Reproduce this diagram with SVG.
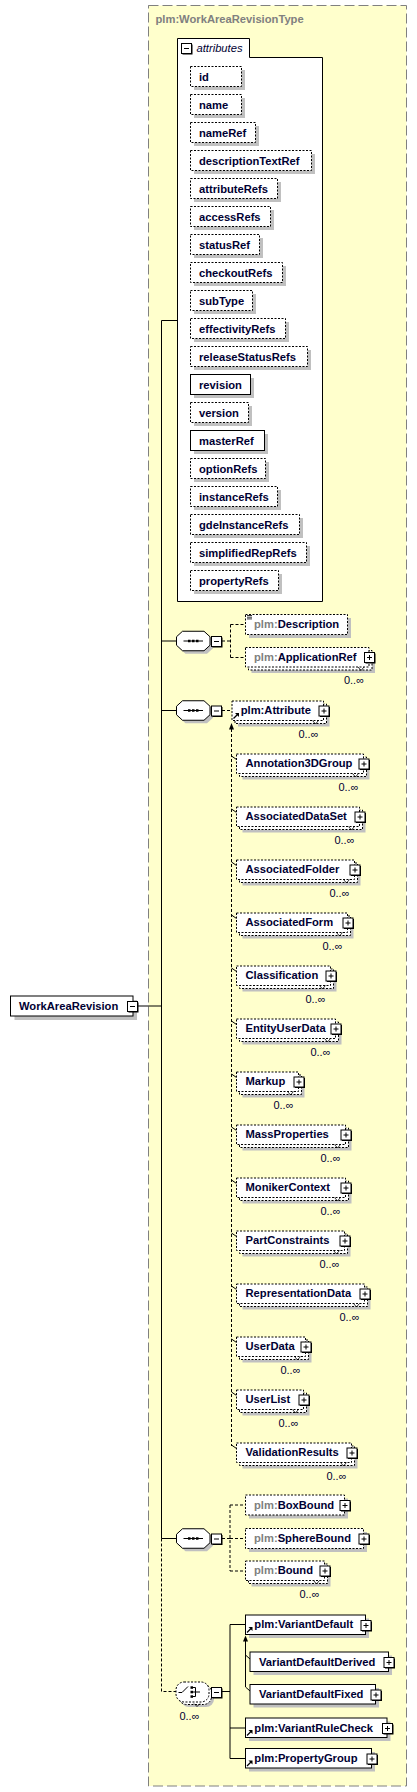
<svg xmlns="http://www.w3.org/2000/svg" width="417" height="1792" viewBox="0 0 417 1792">
<style>
.t{font-family:"Liberation Sans",Arial,sans-serif;font-size:11.2px;font-weight:bold;fill:#000033}
.g{fill:#808080}
.m{font-family:"Liberation Sans",Arial,sans-serif;font-size:11px;fill:#000033;text-anchor:end}
.it{font-family:"Liberation Sans",Arial,sans-serif;font-size:11.2px;font-style:italic;fill:#000033}
.sh{fill:#c0c0c0}
.s{fill:#fff;stroke:#000}
.d{fill:#fff;stroke:#000;stroke-dasharray:2,1.5}
.c{fill:none;stroke:#000}
.cd{fill:none;stroke:#000;stroke-dasharray:3,2}
.nt{fill:none;stroke:#000;stroke-width:0.8}
</style>
<defs>
<g id="plus"><rect x="1.5" y="1.5" width="10" height="10" fill="#000"/><rect x="0.5" y="0.5" width="10" height="10" fill="#fff" stroke="#000"/><path d="M3 5.5h5M5.5 3v5" stroke="#000"/></g>
<g id="minus"><rect x="1.5" y="1.5" width="10" height="10" fill="#000"/><rect x="0.5" y="0.5" width="10" height="10" fill="#fff" stroke="#000"/><path d="M3 5.5h5" stroke="#000"/></g>
<g id="ref"><path d="M0.5 6.5L4.5 2.5" stroke="#000" stroke-width="1.2"/><path d="M2 1H6V5z" fill="#000"/></g>
<g id="seq"><polygon class="sh" points="9,3 30.5,3 36.5,8.5 36.5,17 30.5,22.5 9,22.5 3,17 3,8.5"/><polygon class="s" points="6,0 27.5,0 33.5,5.5 33.5,14 27.5,19.5 6,19.5 0,14 0,5.5"/><path d="M7 9.75h19.5" stroke="#000"/><rect x="11.5" y="8.5" width="2.5" height="2.5" fill="#000"/><rect x="15.5" y="8.5" width="2.5" height="2.5" fill="#000"/><rect x="19.5" y="8.5" width="2.5" height="2.5" fill="#000"/></g>
</defs>

<g id="type">
<rect x="148.5" y="5.5" width="258" height="1780.5" fill="#ffffcc" stroke="#808080" stroke-dasharray="10,4"/>
<text class="t g" x="155.5" y="22.5">plm:WorkAreaRevisionType</text>
</g>

<g id="attributes">
<path d="M177.5 38.5H249.5V57.5H322.5V601.5H177.5Z" class="s"/>
<use href="#minus" x="181" y="43"/>
<text class="it" x="196.5" y="52">attributes</text>
<g id="att-id"><rect class="sh" x="194" y="70" width="51" height="20"/><rect class="d" x="190.5" y="66.5" width="51" height="20"/><text class="t" x="199" y="80.5">id</text></g>
<g id="att-name"><rect class="sh" x="194" y="98" width="51" height="20"/><rect class="d" x="190.5" y="94.5" width="51" height="20"/><text class="t" x="199" y="108.5">name</text></g>
<g id="att-nameRef"><rect class="sh" x="194" y="126" width="65" height="20"/><rect class="d" x="190.5" y="122.5" width="65" height="20"/><text class="t" x="199" y="136.5">nameRef</text></g>
<g id="att-descriptionTextRef"><rect class="sh" x="194" y="154" width="121" height="20"/><rect class="d" x="190.5" y="150.5" width="121" height="20"/><text class="t" x="199" y="164.5">descriptionTextRef</text></g>
<g id="att-attributeRefs"><rect class="sh" x="194" y="182" width="87" height="20"/><rect class="d" x="190.5" y="178.5" width="87" height="20"/><text class="t" x="199" y="192.5">attributeRefs</text></g>
<g id="att-accessRefs"><rect class="sh" x="194" y="210" width="80" height="20"/><rect class="d" x="190.5" y="206.5" width="80" height="20"/><text class="t" x="199" y="220.5">accessRefs</text></g>
<g id="att-statusRef"><rect class="sh" x="194" y="238" width="69" height="20"/><rect class="d" x="190.5" y="234.5" width="69" height="20"/><text class="t" x="199" y="248.5">statusRef</text></g>
<g id="att-checkoutRefs"><rect class="sh" x="194" y="266" width="92" height="20"/><rect class="d" x="190.5" y="262.5" width="92" height="20"/><text class="t" x="199" y="276.5">checkoutRefs</text></g>
<g id="att-subType"><rect class="sh" x="194" y="294" width="62" height="20"/><rect class="d" x="190.5" y="290.5" width="62" height="20"/><text class="t" x="199" y="304.5">subType</text></g>
<g id="att-effectivityRefs"><rect class="sh" x="194" y="322" width="95" height="20"/><rect class="d" x="190.5" y="318.5" width="95" height="20"/><text class="t" x="199" y="332.5">effectivityRefs</text></g>
<g id="att-releaseStatusRefs"><rect class="sh" x="194" y="350" width="117" height="20"/><rect class="d" x="190.5" y="346.5" width="117" height="20"/><text class="t" x="199" y="360.5">releaseStatusRefs</text></g>
<g id="att-revision"><rect class="sh" x="194" y="378" width="60" height="20"/><rect class="s" x="190.5" y="374.5" width="60" height="20"/><text class="t" x="199" y="388.5">revision</text></g>
<g id="att-version"><rect class="sh" x="194" y="406" width="58" height="20"/><rect class="d" x="190.5" y="402.5" width="58" height="20"/><text class="t" x="199" y="416.5">version</text></g>
<g id="att-masterRef"><rect class="sh" x="194" y="434" width="74" height="20"/><rect class="s" x="190.5" y="430.5" width="74" height="20"/><text class="t" x="199" y="444.5">masterRef</text></g>
<g id="att-optionRefs"><rect class="sh" x="194" y="462" width="75" height="20"/><rect class="d" x="190.5" y="458.5" width="75" height="20"/><text class="t" x="199" y="472.5">optionRefs</text></g>
<g id="att-instanceRefs"><rect class="sh" x="194" y="490" width="87" height="20"/><rect class="d" x="190.5" y="486.5" width="87" height="20"/><text class="t" x="199" y="500.5">instanceRefs</text></g>
<g id="att-gdeInstanceRefs"><rect class="sh" x="194" y="518" width="109" height="20"/><rect class="d" x="190.5" y="514.5" width="109" height="20"/><text class="t" x="199" y="528.5">gdeInstanceRefs</text></g>
<g id="att-simplifiedRepRefs"><rect class="sh" x="194" y="546" width="116" height="20"/><rect class="d" x="190.5" y="542.5" width="116" height="20"/><text class="t" x="199" y="556.5">simplifiedRepRefs</text></g>
<g id="att-propertyRefs"><rect class="sh" x="194" y="574" width="88" height="20"/><rect class="d" x="190.5" y="570.5" width="88" height="20"/><text class="t" x="199" y="584.5">propertyRefs</text></g>
</g>

<g id="connectors">
<path class="c" d="M161.5 320.5V1538.5M161.5 320.5H177.5M161.5 641H176.5M161.5 710.5H176.5M138 1006H161.5M161.5 1538.5H176.5"/>
<path class="cd" d="M161.5 1538.5V1691.5H176"/>
<path class="cd" d="M222 641H230.5M230.5 624.5V657.5M230.5 624.5H245.5M230.5 657.5H245.5"/>
<path class="cd" d="M222 710.5H232"/>
<path class="cd" d="M231.5 729V1446"/>
<polygon points="229,729.5 234,729.5 231.5,723" fill="#000"/>
<path class="c" d="M231.5 756L236.5 759.5M231.5 809L236.5 812.5M231.5 862L236.5 865.5M231.5 915L236.5 918.5M231.5 968L236.5 971.5M231.5 1021L236.5 1024.5M231.5 1074L236.5 1077.5M231.5 1127L236.5 1130.5M231.5 1180L236.5 1183.5M231.5 1233L236.5 1236.5M231.5 1286L236.5 1289.5M231.5 1339L236.5 1342.5M231.5 1392L236.5 1395.5M231.5 1445L236.5 1448.5"/>
<path class="cd" d="M222 1538.5H230M230 1505V1571M230 1505H245.5M230 1538.5H245.5M230 1571H245.5"/>
<path class="c" d="M222 1691.5H230M230 1624.5V1758.5M230 1624.5H245.5M230 1728H245.5M230 1758.5H245.5"/>
<path class="c" d="M245.5 1641V1687M245.5 1655L250 1659M245.5 1687L250 1691"/>
<polygon points="243,1641.5 248,1641.5 245.5,1635.5" fill="#000"/>
</g>

<g id="WorkAreaRevision">
<rect class="sh" x="14.5" y="1000" width="122.5" height="20"/>
<rect class="s" x="10.5" y="996" width="122.5" height="20"/>
<text class="t" x="19" y="1010">WorkAreaRevision</text>
<use href="#minus" x="127" y="1001"/>
</g>

<g id="seq1"><use href="#seq" x="176.5" y="631.25"/><use href="#minus" x="211" y="636"/></g>
<g id="Description">
<rect class="sh" x="249" y="618" width="102" height="20"/>
<rect class="d" x="245.5" y="614.5" width="102" height="20"/>
<path d="M247 615.5h5M247 617.2h5M247 618.9h5" stroke="#000" stroke-width="0.8"/>
<text class="t" x="254" y="628"><tspan class="g">plm:</tspan>Description</text>
</g>
<g id="ApplicationRef">
<rect class="sh" x="251.5" y="653.5" width="123.5" height="19.5"/>
<rect class="d" x="248.5" y="650.5" width="123.5" height="19.5"/>
<rect class="d" x="245.5" y="647.5" width="123.5" height="19.5"/>
<path class="nt" d="M358 667l3 3.5l3-3.5"/>
<use href="#plus" x="364" y="652"/>
<text class="t" x="254" y="660.5"><tspan class="g">plm:</tspan>ApplicationRef</text>
<text class="m" x="364" y="684">0..∞</text>
</g>

<g id="seq2"><use href="#seq" x="176.5" y="700.75"/><use href="#minus" x="211" y="705.5"/></g>
<g id="Attribute">
<rect class="sh" x="238" y="707" width="91.5" height="19.5"/>
<rect class="d" x="235" y="704" width="91.5" height="19.5"/>
<rect class="d" x="232" y="701" width="91.5" height="19.5"/>
<path class="nt" d="M312.5 720.5l3 3.5l3-3.5"/>
<use href="#plus" x="318.5" y="705.5"/>
<use href="#ref" x="233" y="712"/>
<text class="t" x="240.7" y="714">plm:Attribute</text>
<text class="m" x="318.5" y="737.5">0..∞</text>
</g>

<g id="Annotation3DGroup"><rect class="sh" x="242.5" y="760" width="127" height="19.5"/><rect class="d" x="239.5" y="757" width="127" height="19.5"/><rect class="d" x="236.5" y="754" width="127" height="19.5"/><path class="nt" d="M352.5 773.5l3 3.5l3-3.5"/><use href="#plus" x="358.5" y="758.5"/><text class="t" x="245.5" y="767">Annotation3DGroup</text><text class="m" x="358.5" y="790.5">0..∞</text></g>
<g id="AssociatedDataSet"><rect class="sh" x="242.5" y="813" width="123" height="19.5"/><rect class="d" x="239.5" y="810" width="123" height="19.5"/><rect class="d" x="236.5" y="807" width="123" height="19.5"/><path class="nt" d="M348.5 826.5l3 3.5l3-3.5"/><use href="#plus" x="354.5" y="811.5"/><text class="t" x="245.5" y="820">AssociatedDataSet</text><text class="m" x="354.5" y="843.5">0..∞</text></g>
<g id="AssociatedFolder"><rect class="sh" x="242.5" y="866" width="118" height="19.5"/><rect class="d" x="239.5" y="863" width="118" height="19.5"/><rect class="d" x="236.5" y="860" width="118" height="19.5"/><path class="nt" d="M343.5 879.5l3 3.5l3-3.5"/><use href="#plus" x="349.5" y="864.5"/><text class="t" x="245.5" y="873">AssociatedFolder</text><text class="m" x="349.5" y="896.5">0..∞</text></g>
<g id="AssociatedForm"><rect class="sh" x="242.5" y="919" width="111" height="19.5"/><rect class="d" x="239.5" y="916" width="111" height="19.5"/><rect class="d" x="236.5" y="913" width="111" height="19.5"/><path class="nt" d="M336.5 932.5l3 3.5l3-3.5"/><use href="#plus" x="342.5" y="917.5"/><text class="t" x="245.5" y="926">AssociatedForm</text><text class="m" x="342.5" y="949.5">0..∞</text></g>
<g id="Classification"><rect class="sh" x="242.5" y="972" width="94" height="19.5"/><rect class="d" x="239.5" y="969" width="94" height="19.5"/><rect class="d" x="236.5" y="966" width="94" height="19.5"/><path class="nt" d="M319.5 985.5l3 3.5l3-3.5"/><use href="#plus" x="325.5" y="970.5"/><text class="t" x="245.5" y="979">Classification</text><text class="m" x="325.5" y="1002.5">0..∞</text></g>
<g id="EntityUserData"><rect class="sh" x="242.5" y="1025" width="99" height="19.5"/><rect class="d" x="239.5" y="1022" width="99" height="19.5"/><rect class="d" x="236.5" y="1019" width="99" height="19.5"/><path class="nt" d="M324.5 1038.5l3 3.5l3-3.5"/><use href="#plus" x="330.5" y="1023.5"/><text class="t" x="245.5" y="1032">EntityUserData</text><text class="m" x="330.5" y="1055.5">0..∞</text></g>
<g id="Markup"><rect class="sh" x="242.5" y="1078" width="62" height="19.5"/><rect class="d" x="239.5" y="1075" width="62" height="19.5"/><rect class="d" x="236.5" y="1072" width="62" height="19.5"/><path class="nt" d="M287.5 1091.5l3 3.5l3-3.5"/><use href="#plus" x="293.5" y="1076.5"/><text class="t" x="245.5" y="1085">Markup</text><text class="m" x="293.5" y="1108.5">0..∞</text></g>
<g id="MassProperties"><rect class="sh" x="242.5" y="1131" width="109" height="19.5"/><rect class="d" x="239.5" y="1128" width="109" height="19.5"/><rect class="d" x="236.5" y="1125" width="109" height="19.5"/><path class="nt" d="M334.5 1144.5l3 3.5l3-3.5"/><use href="#plus" x="340.5" y="1129.5"/><text class="t" x="245.5" y="1138">MassProperties</text><text class="m" x="340.5" y="1161.5">0..∞</text></g>
<g id="MonikerContext"><rect class="sh" x="242.5" y="1184" width="109" height="19.5"/><rect class="d" x="239.5" y="1181" width="109" height="19.5"/><rect class="d" x="236.5" y="1178" width="109" height="19.5"/><path class="nt" d="M334.5 1197.5l3 3.5l3-3.5"/><use href="#plus" x="340.5" y="1182.5"/><text class="t" x="245.5" y="1191">MonikerContext</text><text class="m" x="340.5" y="1214.5">0..∞</text></g>
<g id="PartConstraints"><rect class="sh" x="242.5" y="1237" width="108" height="19.5"/><rect class="d" x="239.5" y="1234" width="108" height="19.5"/><rect class="d" x="236.5" y="1231" width="108" height="19.5"/><path class="nt" d="M333.5 1250.5l3 3.5l3-3.5"/><use href="#plus" x="339.5" y="1235.5"/><text class="t" x="245.5" y="1244">PartConstraints</text><text class="m" x="339.5" y="1267.5">0..∞</text></g>
<g id="RepresentationData"><rect class="sh" x="242.5" y="1290" width="128" height="19.5"/><rect class="d" x="239.5" y="1287" width="128" height="19.5"/><rect class="d" x="236.5" y="1284" width="128" height="19.5"/><path class="nt" d="M353.5 1303.5l3 3.5l3-3.5"/><use href="#plus" x="359.5" y="1288.5"/><text class="t" x="245.5" y="1297">RepresentationData</text><text class="m" x="359.5" y="1320.5">0..∞</text></g>
<g id="UserData"><rect class="sh" x="242.5" y="1343" width="69" height="19.5"/><rect class="d" x="239.5" y="1340" width="69" height="19.5"/><rect class="d" x="236.5" y="1337" width="69" height="19.5"/><path class="nt" d="M294.5 1356.5l3 3.5l3-3.5"/><use href="#plus" x="300.5" y="1341.5"/><text class="t" x="245.5" y="1350">UserData</text><text class="m" x="300.5" y="1373.5">0..∞</text></g>
<g id="UserList"><rect class="sh" x="242.5" y="1396" width="67" height="19.5"/><rect class="d" x="239.5" y="1393" width="67" height="19.5"/><rect class="d" x="236.5" y="1390" width="67" height="19.5"/><path class="nt" d="M292.5 1409.5l3 3.5l3-3.5"/><use href="#plus" x="298.5" y="1394.5"/><text class="t" x="245.5" y="1403">UserList</text><text class="m" x="298.5" y="1426.5">0..∞</text></g>
<g id="ValidationResults"><rect class="sh" x="242.5" y="1449" width="115" height="19.5"/><rect class="d" x="239.5" y="1446" width="115" height="19.5"/><rect class="d" x="236.5" y="1443" width="115" height="19.5"/><path class="nt" d="M340.5 1462.5l3 3.5l3-3.5"/><use href="#plus" x="346.5" y="1447.5"/><text class="t" x="245.5" y="1456">ValidationResults</text><text class="m" x="346.5" y="1479.5">0..∞</text></g>

<g id="seq3"><use href="#seq" x="176.5" y="1528.75"/><use href="#minus" x="211" y="1533.5"/></g>
<g id="BoxBound"><rect class="sh" x="249" y="1498.5" width="99" height="20"/><rect class="d" x="245.5" y="1495" width="99" height="20"/><use href="#plus" x="339.5" y="1500"/><text class="t" x="254" y="1508.5"><tspan class="g">plm:</tspan>BoxBound</text></g>
<g id="SphereBound"><rect class="sh" x="249" y="1532" width="118" height="20"/><rect class="d" x="245.5" y="1528.5" width="118" height="20"/><use href="#plus" x="358.5" y="1533.5"/><text class="t" x="254" y="1542"><tspan class="g">plm:</tspan>SphereBound</text></g>
<g id="Bound"><rect class="sh" x="251.5" y="1567" width="79" height="19.5"/><rect class="d" x="248.5" y="1564" width="79" height="19.5"/><rect class="d" x="245.5" y="1561" width="79" height="19.5"/><path class="nt" d="M313.5 1580.5l3 3.5l3-3.5"/><use href="#plus" x="319.5" y="1565.5"/><text class="t" x="254" y="1574"><tspan class="g">plm:</tspan>Bound</text><text class="m" x="319.5" y="1598">0..∞</text></g>

<g id="choice">
<rect class="sh" x="181" y="1687" width="33" height="20" rx="8"/>
<rect class="d" x="178.5" y="1684.5" width="33" height="20" rx="8"/>
<rect class="d" x="176" y="1682" width="33" height="20" rx="8"/>
<path class="nt" d="M194 1703.5l3 3l3-3"/>
<path d="M178.5 1692.5H182L188 1686.5M192 1692H200M195.5 1687.5V1696.5M192 1687.5H195.5M192 1696.5H195.5" stroke="#000" fill="none"/>
<rect x="190.5" y="1686.3" width="2.5" height="2.5" fill="#000"/><rect x="190.5" y="1690.8" width="2.5" height="2.5" fill="#000"/><rect x="190.5" y="1695.3" width="2.5" height="2.5" fill="#000"/>
<use href="#minus" x="211" y="1687"/>
<text class="m" x="199.5" y="1720">0..∞</text>
</g>
<g id="VariantDefault"><rect class="sh" x="249" y="1618.5" width="120" height="19.5"/><rect class="s" x="245.5" y="1615" width="120" height="19.5"/><use href="#plus" x="360.5" y="1620"/><use href="#ref" x="246.5" y="1626"/><text class="t" x="254.3" y="1628">plm:VariantDefault</text></g>
<g id="VariantDefaultDerived"><rect class="sh" x="253.5" y="1655.5" width="138.5" height="19.5"/><rect class="s" x="250" y="1652" width="138.5" height="19.5"/><use href="#plus" x="383.5" y="1657"/><text class="t" x="259" y="1665.5">VariantDefaultDerived</text></g>
<g id="VariantDefaultFixed"><rect class="sh" x="253.5" y="1688" width="125.5" height="19.5"/><rect class="s" x="250" y="1684.5" width="125.5" height="19.5"/><use href="#plus" x="370.5" y="1689.5"/><text class="t" x="259" y="1698">VariantDefaultFixed</text></g>
<g id="VariantRuleCheck"><rect class="sh" x="249" y="1721.5" width="141.5" height="19.5"/><rect class="s" x="245.5" y="1718" width="141.5" height="19.5"/><use href="#plus" x="382" y="1723"/><use href="#ref" x="246.5" y="1729"/><text class="t" x="254.3" y="1731.5">plm:VariantRuleCheck</text></g>
<g id="PropertyGroup"><rect class="sh" x="249" y="1752" width="126" height="19.5"/><rect class="s" x="245.5" y="1748.5" width="126" height="19.5"/><use href="#plus" x="366.5" y="1753.5"/><use href="#ref" x="246.5" y="1759.5"/><text class="t" x="254.3" y="1762">plm:PropertyGroup</text></g>
</svg>
